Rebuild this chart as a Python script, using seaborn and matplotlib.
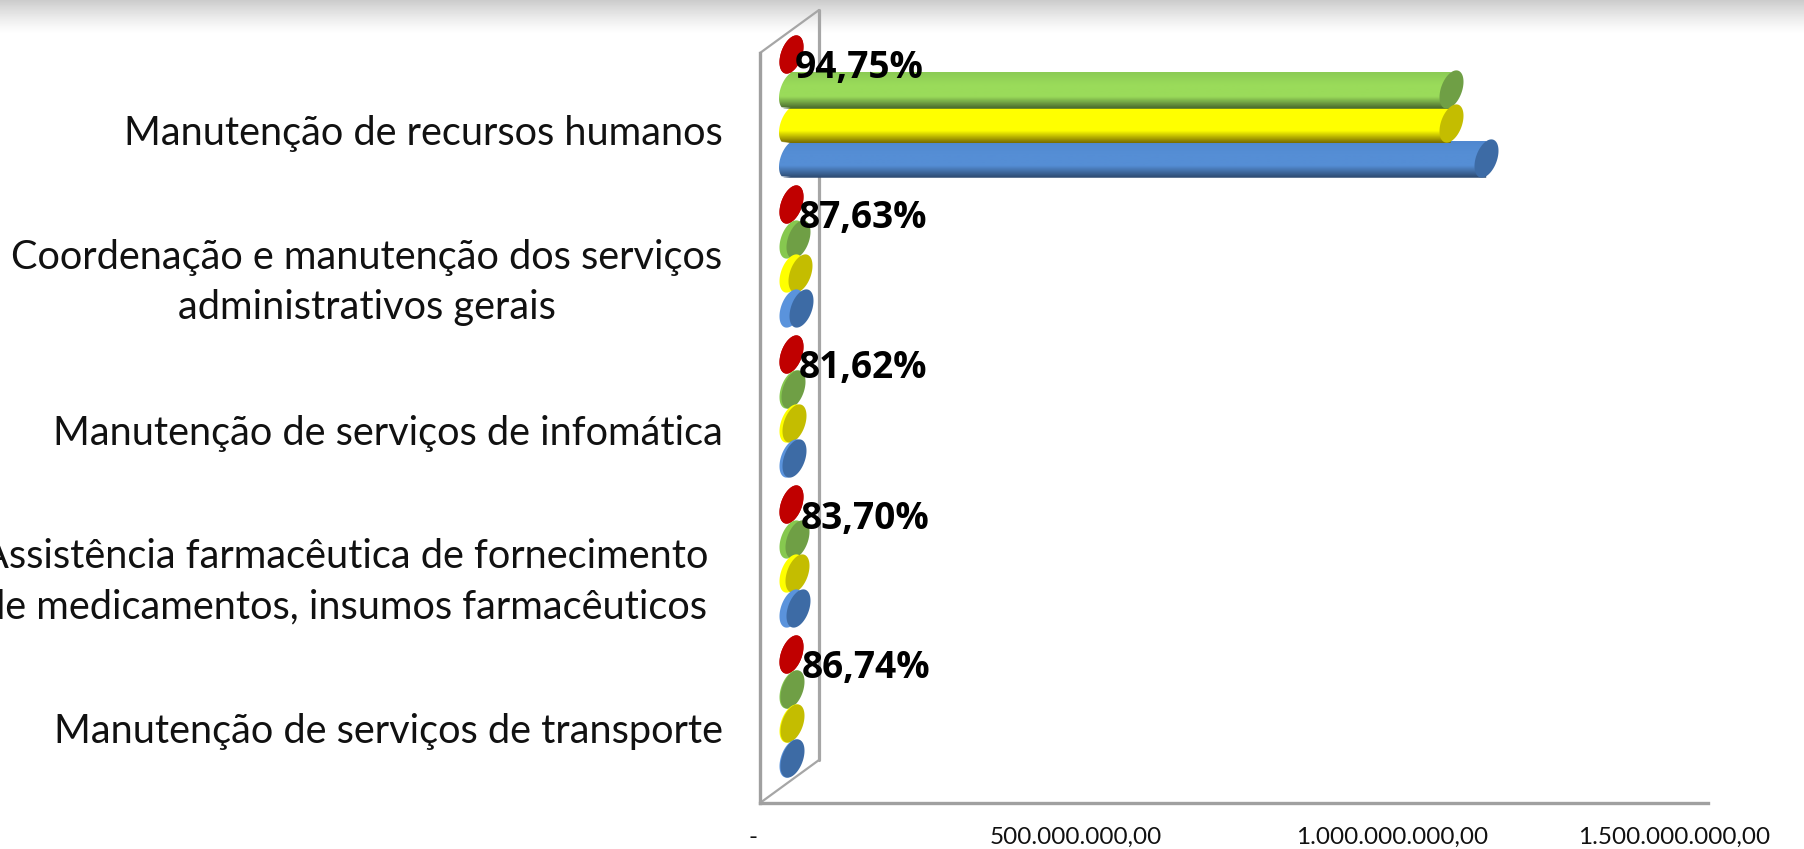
import numpy as np
import pandas as pd
import matplotlib
matplotlib.use("Agg")
import matplotlib.pyplot as plt
from matplotlib.lines import Line2D
from matplotlib.patches import PathPatch
from matplotlib.path import Path
from matplotlib.transforms import ScaledTranslation
import seaborn as sns

# ---- Data ----
categories = [
    "Manutenção de recursos humanos",
    "Coordenação e manutenção dos serviços\nadministrativos gerais",
    "Manutenção de serviços de infomática",
    "Assistência farmacêutica de fornecimento\nde medicamentos, insumos farmacêuticos",
    "Manutenção de serviços de transporte",
]
percent = [94.75, 87.63, 81.62, 83.70, 86.74]  # red series, about zero on this scale
executed = [1.044e9, 1.1e7, 3.0e6, 9.0e6, 1.5e6]
committed = [1.044e9, 1.4e7, 5.0e6, 9.0e6, 1.5e6]
planned = [1.10e9, 1.6e7, 5.0e6, 1.1e7, 1.5e6]
tick_values = [0, 5e8, 1e9, 1.5e9]
tick_labels = ["-", "500.000.000,00", "1.000.000.000,00", "1.500.000.000,00"]

series = ["percent", "executed", "committed", "planned"]
top_tone = ["#C00000", "#8CCB55", "#FFFF00", "#5088D0"]
light = ["#C00000", "#9ADB5A", "#FFFF00", "#558ED5"]
dark = ["#C00000", "#46662B", "#7A6E00", "#2D4A70"]
cap = ["#C00000", "#6F9F45", "#C4BD00", "#3D6BA5"]
base = ["#C00000", "#86C84F", "#FFFF00", "#5A93DC"]

df = pd.DataFrame({"categoria": categories, "percent": percent, "executed": executed,
                   "committed": committed, "planned": planned})
long_df = df.melt(id_vars="categoria", var_name="serie", value_name="valor")

# ---- Layout (pixels) ----
W, H = 1804, 849
LEFT, TOP, BOTTOM, WIDTH = 760, 53, 803, 948
DX, DY = 31, 22  # bars sit half way between front and back of the 3D floor
X_PER_PX = 1.5e9 / WIDTH
Y_PER_PX = len(categories) / (BOTTOM - TOP)


def px_axes(fig, left, top, width, height):
    return fig.add_axes([left / W, 1 - (top + height) / H, width / W, height / H])


def tilted_ellipse(a=20.0, b=10.5, angle=20):
    # pixel outline of a bar end, leaning to the right at the top
    t = np.linspace(0, 2 * np.pi, 72)
    th = np.radians(angle)
    x0, y0 = b * np.cos(t), a * np.sin(t)
    x = x0 * np.cos(th) + y0 * np.sin(th)
    y = -x0 * np.sin(th) + y0 * np.cos(th)
    return np.column_stack([x, y])


def shift_label(label, dx, dy):
    label.set_transform(label.get_transform() + ScaledTranslation(dx / 100, dy / 100, fig.dpi_scale_trans))


sns.set_theme(style="white")
plt.rcParams["font.family"] = ["Lato", "DejaVu Sans"]

fig = plt.figure(figsize=(W / 100, H / 100), dpi=100)

# shaded strip along the top edge
bg = fig.add_axes([0, 0, 1, 1], zorder=0)
bg.axis("off")
shade = np.clip(1 - np.arange(H) / 34.0, 0, 1)[:, None] ** 1.3
bg.imshow(1 - 0.2 * shade, cmap="gray", vmin=0, vmax=1, aspect="auto")

# front plane: floor, wall, axis labels
front = px_axes(fig, LEFT, TOP, WIDTH, BOTTOM - TOP)
front.set_zorder(1)
front.patch.set_alpha(0)
front.set_xlim(0, 1.5e9)
front.set_ylim(len(categories) - 0.5, -0.5)
front.set_xticks(tick_values)
front.set_xticklabels(tick_labels, fontsize=17.5, color="#111111")
front.set_yticks(range(len(categories)))
front.set_yticklabels(categories, fontsize=28.6, color="#111111", multialignment="center",
                      linespacing=1.45)
front.tick_params(axis="both", length=0)
front.tick_params(axis="x", pad=17)
front.tick_params(axis="y", pad=27)
for side in ["top", "right"]:
    front.spines[side].set_visible(False)
for side in ["left", "bottom"]:
    front.spines[side].set_color("#A0A0A0")
    front.spines[side].set_linewidth(2.4)

# tick labels that Excel pushed away from their tick
for lab, nudge in zip(front.get_xticklabels(), [-7, 0, 0, -34]):
    shift_label(lab, nudge, 0)
for lab, dx, dy in zip(front.get_yticklabels(), [0, 0, 0, -14, 0], [-2, 6, -2, 7, 0]):
    shift_label(lab, dx, dy)

# wall edges, in axes fractions of the front plane
bx, by = 59 / WIDTH, 43 / (BOTTOM - TOP)
for xs, ys, lw in [([0, bx], [1, 1 + by], 1.6), ([bx, bx], [1 + by, by], 2.3), ([bx, 0], [by, 0], 1.6)]:
    front.add_line(Line2D(xs, ys, transform=front.transAxes, color="#A6A6A6", lw=lw, clip_on=False))

# bars
ax = px_axes(fig, LEFT + DX, TOP - DY, WIDTH, BOTTOM - TOP)
ax.set_zorder(2)
ax.patch.set_alpha(0)
sns.barplot(data=long_df, x="valor", y="categoria", hue="serie", hue_order=series,
            palette=light, width=0.92, gap=0, legend=False, ax=ax, orient="h")
ax.axis("off")

outline = tilted_ellipse()
marker = Path(outline, closed=True)
marker_size = (np.abs(outline).max() * 2 * 0.72) ** 2

# gradient body with a rounded start, tilted cap at each end
containers = list(ax.containers)
half_body = 18.5 * Y_PER_PX
body_drop = 1.5 * Y_PER_PX
for i, container in enumerate(containers):
    grad = np.array(sns.blend_palette([top_tone[i], light[i], light[i], dark[i]], 48))[:, None, :]
    ys = []
    for patch in container:
        yc = patch.get_y() + patch.get_height() / 2
        ys.append(yc)
        patch.set_visible(False)
        if patch.get_width() > 1e8:
            body_top, body_bottom = yc + body_drop - half_body, yc + body_drop + half_body
            # left side follows the start ellipse, screen y grows downward
            ex = outline[:, 0] * X_PER_PX
            ey = np.clip(yc + body_drop - outline[:, 1] * Y_PER_PX, body_top, body_bottom)
            left_side = ex <= 0
            order = np.argsort(ey[left_side])
            curve = np.column_stack([ex[left_side][order], ey[left_side][order]])
            verts = np.vstack([[0, body_top], curve, [patch.get_width(), body_bottom],
                               [patch.get_width(), body_top], [0, body_top]])
            im = ax.imshow(grad, extent=[-14 * X_PER_PX, patch.get_width(), body_bottom, body_top],
                           aspect="auto", zorder=3.5 - i * 0.1, interpolation="bilinear")
            im.set_clip_box(fig.bbox)
            im.set_clip_path(PathPatch(Path(verts, closed=True), transform=ax.transData))
    ys = np.array(ys)
    vals = np.array(df[series[i]])
    z = 4 + i * 0.1
    small = vals < 1e8
    ax.scatter(np.zeros(small.sum()), ys[small], marker=marker, s=marker_size, color=base[i],
               linewidths=0, zorder=z, clip_on=False)
    ax.scatter(vals, ys, marker=marker, s=marker_size, color=cap[i], linewidths=0, zorder=z + 0.05,
               clip_on=False)
ax.set_xlim(0, 1.5e9)
ax.set_ylim(len(categories) - 0.5, -0.5)

# percentage labels hang off the red series
label_dx = [4, 8, 8, 10, 11]
label_dy = [-14, -14, -14, -15, -14]
for p, patch, dx, dy in zip(percent, containers[0], label_dx, label_dy):
    ax.annotate(f"{p:.2f}%".replace(".", ","), (p, patch.get_y() + patch.get_height() / 2),
                xytext=(dx * 0.72, dy * 0.72), textcoords="offset points", ha="left", va="center",
                fontsize=26.7, fontweight="bold", color="black", zorder=10,
                family=["Open Sans", "DejaVu Sans"], annotation_clip=False)

fig.savefig("out.png", dpi=100)
plt.close(fig)
